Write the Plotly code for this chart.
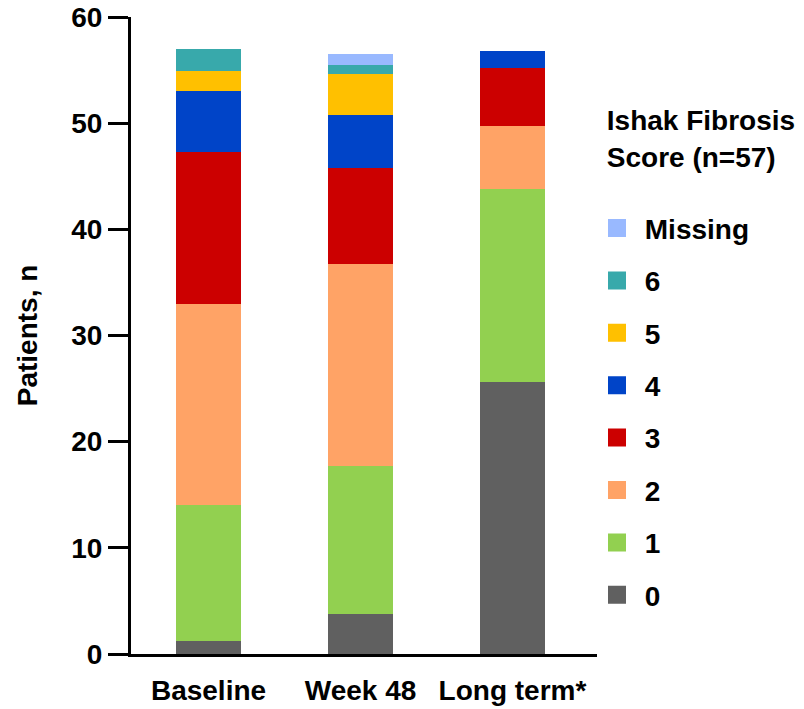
import plotly.graph_objects as go

categories = ["Baseline", "Week 48", "Long term*"]
scores = ["0", "1", "2", "3", "4", "5", "6", "Missing"]
colors = ["#606060", "#92D050", "#FFA366", "#CC0000", "#0044C8", "#FFC000", "#38A9AB", "#99B9FF"]

score_0 = [1.2, 3.8, 25.6]
score_1 = [12.8, 13.9, 18.2]
score_2 = [19.0, 19.0, 5.9]
score_3 = [14.3, 9.1, 5.5]
score_4 = [5.7, 5.0, 1.6]
score_5 = [1.9, 3.8, 0]
score_6 = [2.1, 0.9, 0]
score_missing = [0, 1.0, 0]

series = [score_0, score_1, score_2, score_3, score_4, score_5, score_6, score_missing]

FONT = "Liberation Sans, Arial, sans-serif"

fig = go.Figure()
for name, vals, col in zip(scores, series, colors):
    fig.add_trace(go.Bar(x=categories, y=vals, name=name, marker_color=col,
                         marker_line_width=0, width=0.43, showlegend=False))

# legend entries (larger square symbols), top to bottom: Missing ... 0
for name, col in reversed(list(zip(scores, colors))):
    fig.add_trace(go.Scatter(x=[None], y=[None], mode="markers", name="\u00a0" + name,
                             legendgroup=name,
                             marker=dict(symbol="square", size=16, color=col,
                                         line=dict(color=col, width=2))))

fig.update_layout(
    template="none",
    width=804, height=709,
    margin=dict(l=131, r=207, t=17, b=55, autoexpand=False),
    barmode="stack",
    plot_bgcolor="white", paper_bgcolor="white",
    font=dict(family=FONT, color="black", size=28),
    xaxis=dict(type="category", categoryorder="array", categoryarray=categories,
               range=[-0.51, 2.556], showline=True, linecolor="black", linewidth=3,
               ticks="outside", ticklen=9, tickcolor="rgba(0,0,0,0)", automargin=False,
               tickfont=dict(size=28, weight="bold", family=FONT), showgrid=False),
    yaxis=dict(range=[0, 60], dtick=10, showline=True, linecolor="black", linewidth=3,
               ticks="outside", ticklen=20, tickwidth=3, tickcolor="black", automargin=False,
               tickfont=dict(size=28, weight="bold", family=FONT),
               showgrid=False, zeroline=False,
               title=dict(text="Patients, n", font=dict(size=28, weight="bold", family=FONT),
                          standoff=26)),
    legend=dict(x=1.0, xanchor="left", y=0.879, yanchor="top",
                traceorder="grouped", tracegroupgap=13, bgcolor="rgba(0,0,0,0)",
                font=dict(size=28, weight="bold", family=FONT),
                title=dict(text="\u00a0Ishak Fibrosis<br>\u00a0Score (n=57)<br>\u00a0",
                           font=dict(size=28, weight="bold", family=FONT))),
)

fig.write_html("out.html")
